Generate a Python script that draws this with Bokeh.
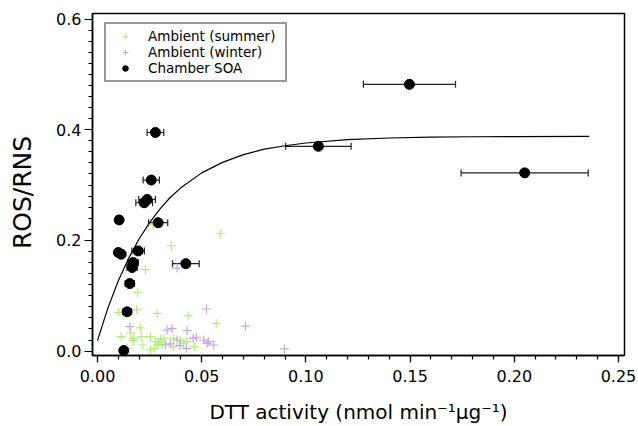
from bokeh.plotting import figure
from bokeh.models import (ColumnDataSource, Whisker, TeeHead, Range1d, SingleIntervalTicker,
                          NumeralTickFormatter, Legend, LegendItem)
from bokeh.embed import file_html
from bokeh.resources import INLINE

# ---- data ----
soa_x = [0.0278, 0.0258, 0.0238, 0.0224, 0.0104, 0.0291, 0.0100, 0.0114, 0.0195, 0.0171,
         0.0166, 0.0424, 0.0155, 0.0142, 0.0126, 0.106, 0.1497, 0.205]
soa_y = [0.395, 0.309, 0.274, 0.268, 0.237, 0.232, 0.178, 0.175, 0.181, 0.160,
         0.151, 0.158, 0.122, 0.071, 0.001, 0.370, 0.482, 0.322]
soa_xerr = [0.0040, 0.0039, 0.0040, 0.0040, 0.0012, 0.0046, 0.0012, 0.0012, 0.0030, 0.0025,
            0.0025, 0.0064, 0.0022, 0.0020, 0.0015, 0.0157, 0.0221, 0.0305]

summer_x = [0.0267, 0.059, 0.0354, 0.023, 0.0193, 0.0102, 0.0187, 0.0286, 0.0435, 0.057,
            0.0206, 0.0114, 0.0174, 0.017, 0.0211, 0.0254, 0.0302, 0.0278, 0.0217, 0.0142,
            0.0254, 0.0275, 0.0286, 0.031, 0.0295, 0.0398, 0.0414, 0.0465, 0.0366, 0.0363,
            0.0318, 0.0427, 0.016]
summer_y = [0.228, 0.212, 0.190, 0.147, 0.106, 0.070, 0.075, 0.068, 0.064, 0.050,
            0.042, 0.026, 0.023, 0.019, 0.026, 0.026, 0.022, 0.017, 0.011, 0.005,
            0.002, 0.005, 0.011, 0.012, 0.015, 0.019, 0.014, 0.008, 0.023, 0.008,
            0.022, 0.017, 0.033]

winter_x = [0.0382, 0.0523, 0.071, 0.0155, 0.0334, 0.0358, 0.043, 0.0382, 0.035, 0.0326,
            0.0459, 0.0475, 0.051, 0.0534, 0.0558, 0.0526, 0.0427, 0.0897, 0.0395]
winter_y = [0.150, 0.076, 0.045, 0.044, 0.038, 0.041, 0.037, 0.020, 0.013, 0.011,
            0.023, 0.025, 0.020, 0.017, 0.011, 0.014, 0.005, 0.004, 0.010]

# fitted curve
fit_x = [0.000, 0.005, 0.010, 0.015, 0.020, 0.025, 0.030, 0.035, 0.040, 0.050, 0.060,
         0.070, 0.080, 0.090, 0.100, 0.120, 0.140, 0.160, 0.180, 0.200, 0.236]
fit_y = [0.019, 0.078, 0.127, 0.168, 0.203, 0.232, 0.257, 0.278, 0.295, 0.322, 0.341,
         0.355, 0.365, 0.371, 0.376, 0.382, 0.385, 0.3865, 0.3873, 0.3876, 0.388]

legend_labels = ["Ambient (summer)", "Ambient (winter)", "Chamber SOA"]

FONT = "DejaVu Sans"
GREEN = "#b2ee7e"
PURPLE = "#c6a6ea"

p = figure(width=638, height=426, output_backend="svg", toolbar_location=None,
           x_range=Range1d(-0.0024, 0.2529), y_range=Range1d(-0.008, 0.61),
           min_border_left=92, min_border_right=14, min_border_top=13, min_border_bottom=70,
           x_axis_label="DTT activity (nmol min\u207b\u00b9\u00b5g\u207b\u00b9)",
           y_axis_label="ROS/RNS\u00a0\u00a0")
p.xgrid.visible = False
p.ygrid.visible = False
p.outline_line_color = "black"
p.outline_line_width = 1.5
p.background_fill_color = "white"
p.border_fill_color = "white"

p.xaxis.ticker = SingleIntervalTicker(interval=0.05, num_minor_ticks=5)
p.yaxis.ticker = SingleIntervalTicker(interval=0.2, num_minor_ticks=10)
p.xaxis.formatter = NumeralTickFormatter(format="0.00")
p.yaxis.formatter = NumeralTickFormatter(format="0.0")
for ax in (p.xaxis, p.yaxis):
    ax.axis_line_color = "black"
    ax.axis_line_width = 1.5
    ax.major_tick_line_color = "black"
    ax.minor_tick_line_color = "black"
    ax.major_tick_line_width = 1.2
    ax.minor_tick_line_width = 1.2
    ax.major_tick_in = 0
    ax.minor_tick_in = 0
    ax.major_label_text_font = FONT
    ax.major_label_text_font_size = "16px"
    ax.major_label_text_color = "black"
    ax.axis_label_text_font = FONT
    ax.axis_label_text_font_style = "normal"
    ax.axis_label_text_color = "black"
p.xaxis.axis_label_text_font_size = "20px"
p.yaxis.axis_label_text_font_size = "25px"
p.xaxis.major_tick_out = 7
p.xaxis.minor_tick_out = 4
p.yaxis.major_tick_out = 8
p.yaxis.minor_tick_out = 4
p.xaxis.major_label_standoff = 7
p.yaxis.major_label_standoff = 3
p.xaxis.axis_label_standoff = 15
p.yaxis.axis_label_standoff = 16

# fit curve
p.line(fit_x, fit_y, line_color="black", line_width=1.2)

# ambient
r_sum = p.scatter(summer_x, summer_y, marker="cross", size=9, line_color=GREEN, line_width=1.2)
r_win = p.scatter(winter_x, winter_y, marker="cross", size=9, line_color=PURPLE, line_width=1.2)

# chamber SOA with x error bars
src = ColumnDataSource(dict(x=soa_x, y=soa_y,
                            lo=[a - e for a, e in zip(soa_x, soa_xerr)],
                            hi=[a + e for a, e in zip(soa_x, soa_xerr)]))
w = Whisker(source=src, base="y", lower="lo", upper="hi", dimension="width",
            line_color="#222222", line_width=1.2,
            upper_head=TeeHead(size=7, line_color="#222222", line_width=1.2),
            lower_head=TeeHead(size=7, line_color="#222222", line_width=1.2))
p.add_layout(w)
r_soa = p.scatter("x", "y", source=src, marker="circle", size=10, fill_color="black", line_color="black")

legend = Legend(items=[LegendItem(label=legend_labels[0], renderers=[r_sum]),
                       LegendItem(label=legend_labels[1], renderers=[r_win]),
                       LegendItem(label=legend_labels[2], renderers=[r_soa])],
                location=(12, 273))
legend.label_text_font = FONT
legend.label_text_font_size = "13.5px"
legend.label_text_color = "black"
legend.glyph_width = 30
legend.glyph_height = 14
legend.label_height = 14
legend.label_width = 133
legend.label_standoff = 8
legend.spacing = 0
legend.padding = 4
legend.margin = 0
legend.border_line_color = "#333333"
legend.border_line_width = 2
legend.background_fill_color = "white"
legend.background_fill_alpha = 1
p.add_layout(legend)

open("out.html", "w").write(file_html(p, INLINE))
